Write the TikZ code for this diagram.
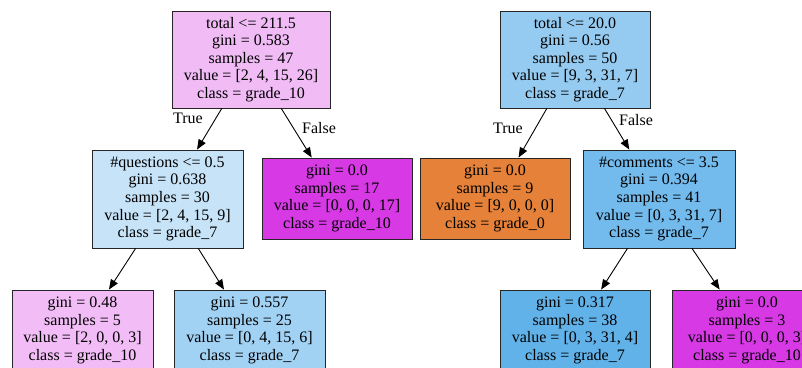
\documentclass[tikz,border=0pt]{standalone}
\usepackage{fontspec}
\setmainfont{Liberation Serif}
\usepackage{xcolor}
\usetikzlibrary{arrows.meta}
\definecolor{tenlight}{HTML}{F1BBF6}
\definecolor{tenleaf}{HTML}{F2BDF6}
\definecolor{tenfull}{HTML}{D739E5}
\definecolor{zerofull}{HTML}{E58139}
\definecolor{sevenroot}{HTML}{95CBF1}
\definecolor{sevenq}{HTML}{C6E3F8}
\definecolor{sevenleaf}{HTML}{A1D1F3}
\definecolor{sevenc}{HTML}{73BAED}
\definecolor{sevendeep}{HTML}{62B2EA}
\tikzset{
  box/.style={draw=black!85, line width=0.9pt, align=center, inner sep=0pt,
    font=\fontsize{16}{17.6}\selectfont},
  split/.style={box, minimum width=151pt, minimum height=98pt},
  leaf/.style={box, minimum width=150pt, minimum height=81pt},
  edge/.style={draw=black, line width=0.9pt, -{Triangle[length=10pt,width=8pt]}},
  lab/.style={font=\fontsize{16}{17.6}\selectfont, inner sep=0pt},
}

\begin{document}
\begin{tikzpicture}[x=1pt,y=-1pt]
  \useasboundingbox (0,0) rectangle (802,367);
  \clip (0,0) rectangle (802,367);
  % left tree
  \node[split, fill=tenlight, minimum width=158pt, minimum height=97pt] (rootL) at (251,59.5)
    {total <= 211.5\\gini = 0.583\\samples = 47\\value = [2, 4, 15, 26]\\class = grade\_10};
  \node[split, fill=sevenq] (quest) at (167.5,199)
    {\#questions <= 0.5\\gini = 0.638\\samples = 30\\value = [2, 4, 15, 9]\\class = grade\_7};
  \node[leaf, fill=tenfull] (leafA) at (337,198.5)
    {gini = 0.0\\samples = 17\\value = [0, 0, 0, 17]\\class = grade\_10};
  \node[leaf, fill=tenleaf, minimum width=141pt] (leafB) at (82.5,330.5)
    {gini = 0.48\\samples = 5\\value = [2, 0, 0, 3]\\class = grade\_10};
  \node[leaf, fill=sevenleaf, minimum width=151pt] (leafC) at (249.5,330.5)
    {gini = 0.557\\samples = 25\\value = [0, 4, 15, 6]\\class = grade\_7};
  % right tree
  \node[split, fill=sevenroot, minimum width=150pt, minimum height=97pt] (rootR) at (575,59.5)
    {total <= 20.0\\gini = 0.56\\samples = 50\\value = [9, 3, 31, 7]\\class = grade\_7};
  \node[leaf, fill=zerofull] (leafD) at (495,198.5)
    {gini = 0.0\\samples = 9\\value = [9, 0, 0, 0]\\class = grade\_0};
  \node[split, fill=sevenc, minimum width=152pt] (comm) at (659,199)
    {\#comments <= 3.5\\gini = 0.394\\samples = 41\\value = [0, 3, 31, 7]\\class = grade\_7};
  \node[leaf, fill=sevendeep] (leafE) at (575,330.5)
    {gini = 0.317\\samples = 38\\value = [0, 3, 31, 4]\\class = grade\_7};
  \node[leaf, fill=tenfull] (leafF) at (747,330.5)
    {gini = 0.0\\samples = 3\\value = [0, 0, 0, 3]\\class = grade\_10};
  % connectors
  \draw[edge] (rootL) -- (quest);
  \draw[edge] (rootL) -- (leafA);
  \draw[edge] (quest) -- (leafB);
  \draw[edge] (quest) -- (leafC);
  \draw[edge] (rootR) -- (leafD);
  \draw[edge] (rootR) -- (comm);
  \draw[edge] (comm) -- (leafE);
  \draw[edge] (comm) -- (leafF);
  \node[lab] (trueL) at (188,118) {True};
  \node[lab] (falseL) at (319,128) {False};
  \node[lab] (trueR) at (508,128) {True};
  \node[lab] (falseR) at (636,120) {False};
\end{tikzpicture}
\end{document}
